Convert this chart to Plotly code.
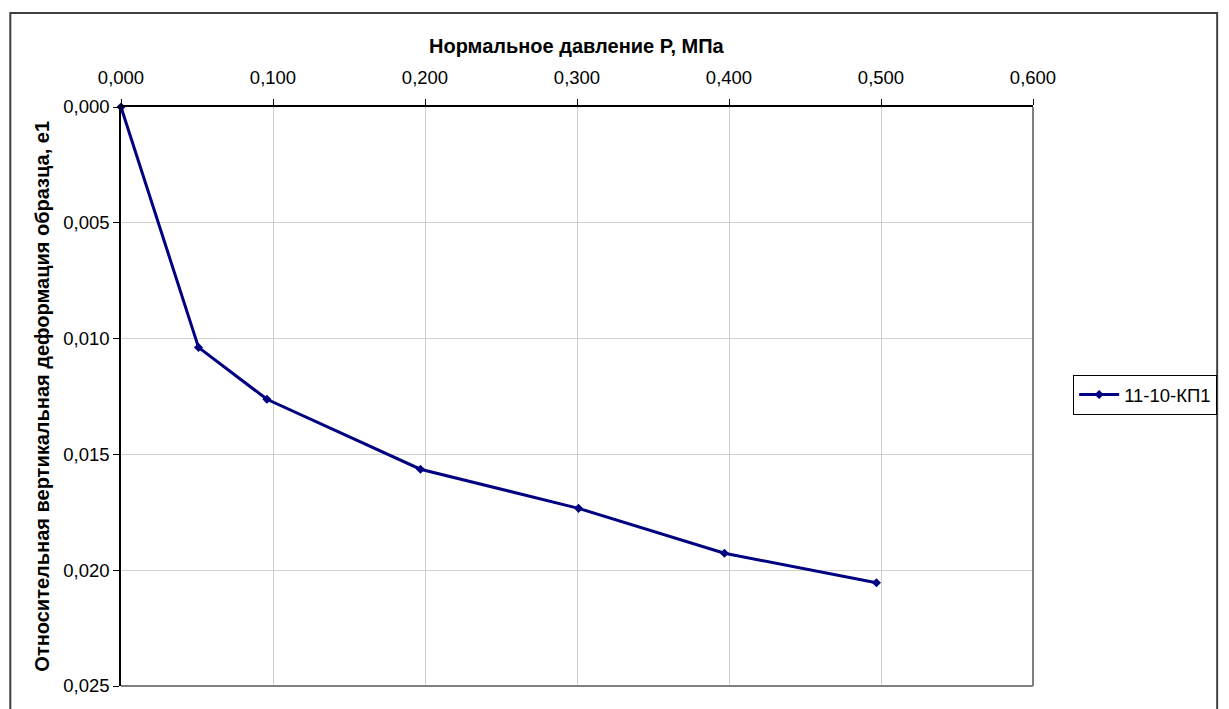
import plotly.graph_objects as go

pressure = [0.0, 0.051, 0.096, 0.197, 0.301, 0.397, 0.497]
strain = [0.0, 0.01038, 0.01262, 0.01564, 0.01733, 0.01927, 0.02054]
series_name = "11-10-КП1"
x_title = "Нормальное давление P, МПа"
y_title = "Относительная вертикальная деформация образца, е1"

# page body has an 8px margin; work in figure coordinates
OFF = 8
W, H = 1229 - OFF, 709 - OFF
L, R, T, B = 121 - OFF, 1052 - OFF, 107 - OFF, 686 - OFF
pw, ph = R - L, B - T

def px_x(p):
    return (p - OFF - L) / pw

def px_y(p):
    return (B - (p - OFF)) / ph

FONT = "Arial, Liberation Sans, sans-serif"
TICK = 18.5
TITLE = 20

fig = go.Figure()
fig.add_trace(go.Scatter(
    x=pressure, y=strain, name=series_name, mode="lines+markers",
    line=dict(color="#000080", width=3),
    marker=dict(symbol="diamond", size=7, color="#000080"),
    cliponaxis=False,
))

fig.update_layout(
    width=W, height=H,
    margin=dict(l=L, r=W - R, t=T, b=H - B, pad=0),
    paper_bgcolor="white", plot_bgcolor="white",
    separators=", ",
    font=dict(family=FONT, size=TICK, color="black"),
    showlegend=True,
    legend=dict(x=px_x(1093), xanchor="left", y=px_y(395), yanchor="middle",
                bordercolor="black", borderwidth=1, bgcolor="white",
                itemwidth=40,
                font=dict(size=TICK, family=FONT)),
    xaxis=dict(side="top", range=[0, 0.6], dtick=0.1, tick0=0, tickformat=".3f",
               showgrid=True, gridcolor="#d0d0d0", gridwidth=1,
               showline=True, linecolor="black", linewidth=1.5,
               ticks="outside", ticklen=6, tickcolor="black",
               ticklabelstandoff=8,
               zeroline=False, tickfont=dict(size=TICK)),
    yaxis=dict(range=[0.025, 0], dtick=0.005, tick0=0, tickformat=".3f",
               showgrid=True, gridcolor="#d0d0d0", gridwidth=1,
               showline=True, linecolor="black", linewidth=1.5,
               ticks="outside", ticklen=6, tickcolor="black",
               zeroline=False, tickfont=dict(size=TICK)),
    shapes=[
        dict(type="line", xref="paper", yref="paper", x0=1, x1=1, y0=0, y1=1,
             line=dict(color="#808080", width=2)),
        dict(type="line", xref="paper", yref="paper", x0=0, x1=1, y0=0, y1=0,
             line=dict(color="#808080", width=2)),
        dict(type="rect", xref="paper", yref="paper",
             x0=px_x(8), x1=px_x(1240), y0=px_y(760), y1=px_y(13),
             line=dict(color="#404040", width=2)),
    ],
    annotations=[
        dict(text="<b>" + x_title + "</b>", xref="paper", yref="paper",
             x=0.5, y=px_y(46), xanchor="center", yanchor="middle",
             showarrow=False, font=dict(size=TITLE, family=FONT)),
        dict(text="<b>" + y_title + "</b>", xref="paper", yref="paper",
             x=px_x(40), y=px_y(396), xanchor="center", yanchor="middle",
             textangle=-90, showarrow=False, font=dict(size=TITLE, family=FONT)),
    ],
)

fig.write_html("out.html")
